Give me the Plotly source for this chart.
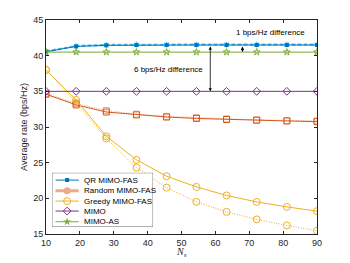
import plotly.graph_objects as go

Ns = [10, 18.9, 27.8, 36.7, 45.6, 54.4, 63.3, 72.2, 81.1, 90]
qr_fas = [40.55, 41.3, 41.45, 41.5, 41.5, 41.5, 41.5, 41.5, 41.5, 41.5]
qr_fas_b = [40.6, 41.35, 41.5, 41.55, 41.55, 41.55, 41.55, 41.55, 41.55, 41.55]
rand_fas = [34.6, 33.1, 32.1, 31.7, 31.4, 31.2, 31.05, 30.95, 30.85, 30.75]
rand_fas_b = [34.7, 33.3, 32.3, 31.8, 31.5, 31.3, 31.15, 31.0, 30.9, 30.85]
greedy_fas = [38.0, 33.8, 28.7, 25.4, 23.1, 21.6, 20.4, 19.5, 18.8, 18.2]
greedy_fas_b = [38.0, 33.4, 28.4, 24.3, 21.5, 19.5, 18.1, 17.05, 16.2, 15.45]
mimo = [35.0] * 10
mimo_as = [40.5] * 10
legend_names = ["QR MIMO-FAS", "Random MIMO-FAS", "Greedy MIMO-FAS", "MIMO", "MIMO-AS"]

BLUE = "#0072BD"
LBLUE = "#4DBEEE"
RED = "#D95319"
LRED = "#EFA98A"
YEL = "#EDB120"
PUR = "#7E2F8E"
GRN = "#77AC30"

fig = go.Figure()
# secondary (dotted/dashed) variants
fig.add_trace(go.Scatter(x=Ns, y=qr_fas_b, mode="lines+markers", showlegend=False,
                         line=dict(color=LBLUE, width=2.2, dash="4px,2px"),
                         marker=dict(symbol="asterisk", size=5, color=LBLUE, line=dict(color=LBLUE, width=1))))
fig.add_trace(go.Scatter(x=Ns, y=rand_fas_b, mode="lines+markers", showlegend=False,
                         line=dict(color=LRED, width=1.2, dash="1px,1.5px"),
                         marker=dict(symbol="square-open", size=6, color=LRED, line=dict(width=1))))
fig.add_trace(go.Scatter(x=Ns, y=greedy_fas_b, mode="lines+markers", showlegend=False,
                         line=dict(color=YEL, width=1, dash="1px,1.5px"),
                         marker=dict(symbol="circle-open", size=7, color=YEL, line=dict(width=1))))

main_styles = [
    (qr_fas, BLUE, dict(symbol="square", size=4, color=BLUE)),
    (rand_fas, RED, dict(symbol="square-open", size=6, color=RED, line=dict(width=1))),
    (greedy_fas, YEL, dict(symbol="circle-open", size=7, color=YEL, line=dict(width=1))),
    (mimo, PUR, dict(symbol="diamond-open", size=6, color=PUR, line=dict(width=1))),
    (mimo_as, GRN, dict(symbol="star-open", size=5, color=GRN, line=dict(width=1))),
]
for (vals, col, mk), name in zip(main_styles, legend_names):
    fig.add_trace(go.Scatter(x=Ns, y=vals, mode="lines+markers", name=name, showlegend=False,
                             line=dict(color=col, width=1), marker=mk))

arrow_kw = dict(xref="x", yref="y", axref="x", ayref="y", showarrow=True,
                arrowhead=2, startarrowhead=2, arrowside="end+start",
                arrowsize=0.8, startarrowsize=0.8, arrowwidth=0.8, arrowcolor="#000000", text="")
fig.add_annotation(x=68, y=40.5, ax=68, ay=41.5, **arrow_kw)
fig.add_annotation(x=58.5, y=35.0, ax=58.5, ay=41.5, **arrow_kw)
fig.add_annotation(x=76.3, y=43.2, text="1 bps/Hz difference", showarrow=False,
                   xref="x", yref="y", font=dict(size=8, color="#000000"))
fig.add_annotation(x=46.1, y=38.1, text="6 bps/Hz difference", showarrow=False,
                   xref="x", yref="y", font=dict(size=8, color="#000000"))
# x-axis title
fig.add_annotation(x=0.5, y=0, xref="paper", yref="paper", yshift=-18, yanchor="middle",
                   text="<i>N<sub>s</sub></i>", showarrow=False,
                   font=dict(size=10, family="Liberation Serif", color="#262626"))

# custom compact legend drawn on an auxiliary subplot (x2/y2)
fig.add_trace(go.Scatter(x=[0, 100, 100, 0, 0], y=[0, 0, 54, 54, 0], mode="lines", fill="toself",
                         fillcolor="white", line=dict(color="#262626", width=0.6),
                         xaxis="x2", yaxis="y2", showlegend=False, hoverinfo="skip"))
leg_y = [46.7, 36.0, 25.7, 15.7, 5.0]
leg_styles = [
    (BLUE, 1, dict(symbol="square", size=4, color=BLUE)),
    (LRED, 3, dict(symbol="circle", size=7, color=LRED)),
    (YEL, 1, dict(symbol="circle-open", size=7, color=YEL, line=dict(width=1))),
    (PUR, 1, dict(symbol="diamond-open", size=6, color=PUR, line=dict(width=1))),
    (GRN, 1, dict(symbol="star", size=6, color=GRN)),
]
for ly, (col, w, mk), name in zip(leg_y, leg_styles, legend_names):
    fig.add_trace(go.Scatter(x=[3.5, 26.5], y=[ly, ly], mode="lines", line=dict(color=col, width=w),
                             xaxis="x2", yaxis="y2", showlegend=False, hoverinfo="skip"))
    fig.add_trace(go.Scatter(x=[15], y=[ly], mode="markers", marker=mk,
                             xaxis="x2", yaxis="y2", showlegend=False, hoverinfo="skip"))
    fig.add_annotation(x=29.5, y=ly, xref="x2", yref="y2", text=name, showarrow=False,
                       xanchor="left", font=dict(size=8, color="#000000"))

axis_common = dict(showgrid=False, zeroline=False, showline=True, mirror="allticks",
                   linecolor="#262626", linewidth=0.8, ticks="inside", ticklen=3,
                   tickcolor="#262626", tickfont=dict(size=9, color="#262626"), automargin=False)
fig.update_xaxes(range=[10, 90], tickvals=[10, 20, 30, 40, 50, 60, 70, 80, 90], **axis_common)
fig.update_yaxes(range=[15, 45], tickvals=[15, 20, 25, 30, 35, 40, 45],
                 title=dict(text="Average rate (bps/Hz)", font=dict(size=9, color="#262626"), standoff=4),
                 **axis_common)

fig.update_layout(
    width=350, height=263,
    margin=dict(l=38, r=41, t=12, b=37),
    paper_bgcolor="white", plot_bgcolor="white",
    font=dict(family="Liberation Sans, Arial, sans-serif", size=9, color="#262626"),
    showlegend=False,
    xaxis2=dict(domain=[0.022, 0.395], range=[0, 100], visible=False, anchor="y2", fixedrange=True),
    yaxis2=dict(domain=[0.034, 0.286], range=[0, 54], visible=False, anchor="x2", fixedrange=True),
)

fig.write_html("out.html")
